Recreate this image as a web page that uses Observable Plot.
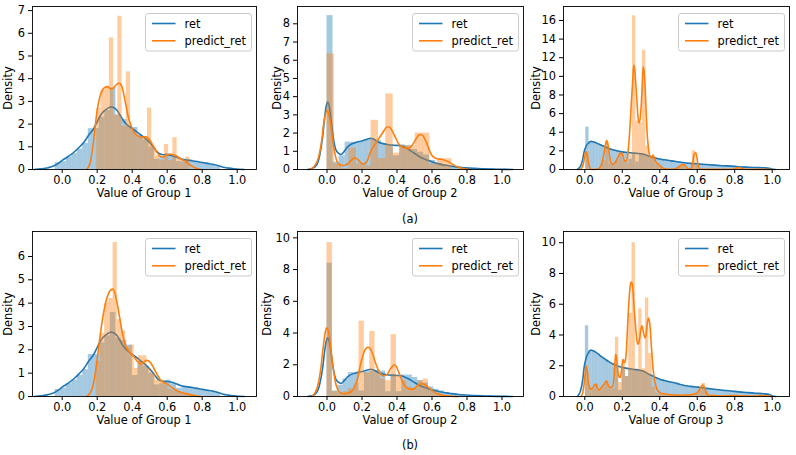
<!DOCTYPE html>
<html><head><meta charset="utf-8">
<script src="https://cdn.jsdelivr.net/npm/d3@7"></script>
<script src="https://cdn.jsdelivr.net/npm/@observablehq/plot@0.6"></script>
<style>
body{margin:0;background:#fff;}
#fig{position:relative;width:796px;height:455px;overflow:hidden;font-family:"DejaVu Sans",sans-serif;font-size:11.4px;color:#000;background:#fff;}
.t{position:absolute;white-space:nowrap;line-height:1;transform:translate(-50%,-50%);}
.yl{position:absolute;white-space:nowrap;line-height:1;transform:translate(-50%,-50%) rotate(-90deg);}
.panel{position:absolute;}
.leg{position:absolute;}
</style></head><body><div id="fig"></div>
<script>
// ---------- labels ----------
const seriesNames = ["ret", "predict_ret"];
const groupLabels = ["Value of Group 1", "Value of Group 2", "Value of Group 3"];
const captions = ["(a)", "(b)"];
const yTitle = "Density";
const xTicks = [0, 0.2, 0.4, 0.6, 0.8, 1.0];
const yTicks1a = [0,1,2,3,4,5,6,7];
const yTicks2a = [0,1,2,3,4,5,6,7,8];
const yTicks3a = [0,2,4,6,8,10,12,14,16];
const yTicks1b = [0,1,2,3,4,5,6];
const yTicks2b = [0,2,4,6,8,10];
const yTicks3b = [0,2,4,6,8,10];

// ---------- histogram bins (start, width, heights) ----------
const ret1BinStart = -0.04, ret1BinWidth = 0.0315;
const ret1HeightsA = [0.3,0.35,0.55,0.7,0.9,1.15,1.8,1.8,2.3,2.6,3.6,2.4,2.2,1.9,1.85,1.5,1.3,1.0,0.45,0.55,0.7,0.55,0.35,0.45,0.42,0.35,0.3,0.28,0.2,0.12];
const ret1HeightsB = [0.3,0.35,0.55,0.7,0.9,1.15,1.8,1.8,2.3,2.6,3.6,2.5,2.4,2.2,0.9,1.5,1.3,1.0,0.5,0.55,0.7,0.55,0.35,0.45,0.42,0.35,0.3,0.28,0.2,0.12];
const pred1BinStartA = 0.197, pred1BinWidthA = 0.0242;
const pred1HeightsA = [2.7,3.5,3.6,5.8,2.4,6.75,1.9,4.3,1.8,1.55,1.45,1.4,2.7,1.0,0.6,0.4,1.1,0.4,1.4,0.5,0.3,0.55];
const pred1BinStartB = 0.194, pred1BinWidthB = 0.0242;
const pred1HeightsB = [1.5,2.7,4.0,4.2,6.6,3.3,2.8,2.1,2.2,1.2,1.75,1.75,1.2,1.0,0.7,0.7,0.5,0.3,0.25,0.2,0.15,0.15,0.1];

const ret2BinStartA = 0, ret2BinWidthA = 0.0345;
const ret2HeightsA = [8.45,0.4,0.75,1.5,1.5,1.5,1.6,1.7,1.6,1.4,1.35,0.75,1.35,1.3,1.1,0.95,0.8,0.5,0.35,0.25,0.18,0.14,0.1,0.08,0.06,0.05,0.04,0.03,0.02,0.02,0.015];
const ret2BinStartB = 0, ret2BinWidthB = 0.0305;
const ret2HeightsB = [8.4,0.35,0.7,1.1,1.5,1.5,0.35,1.55,1.6,1.65,1.6,0.3,1.4,0.3,1.35,1.35,1.2,1.0,0.85,0.6,0.45,0.35,0.25,0.18,0.12,0.1,0.08,0.06,0.05,0.04,0.03,0.03,0.02,0.02];
const pred2BinStartA = 0, pred2BinWidthA = 0.042;
const pred2HeightsA = [6.35,0.3,0.05,1.17,0.3,0.2,2.7,0.6,4.15,0.9,1.3,1.3,2.0,2.0,0.3,0.59,0.59];
const pred2BinStartB = 0, pred2BinWidthB = 0.0305;
const pred2HeightsB = [9.7,0.3,0.2,0.3,0.5,0.8,4.75,1.5,4.1,1.5,1.1,1.0,3.9,1.3,1.0,0.6,0.5,1.0,1.1,0.4,0.2,0.1];

const ret3BinStartA = 0.005, ret3BinWidthA = 0.0178;
const ret3HeightsA = [4.55,3.0,2.95,2.8,2.65,2.5,2.35,2.2,2.1,2.0,1.95,1.9,1.85,1.1,1.75,0.8,1.7,1.65,1.5,1.4,1.3,1.15,1.1,1.05,1.0,0.95,0.9,0.85,0.78,0.72,0.68,0.65,0.62,0.6,0.57,0.55,0.52,0.5,0.47,0.45,0.43,0.41,0.39,0.36,0.34,0.31,0.29,0.27,0.25,0.23,0.21,0.2,0.19,0.18,0.17,0.15];
const ret3BinStartB = 0.003, ret3BinWidthB = 0.0178;
const ret3HeightsB = [4.6,3.0,2.95,2.8,2.65,2.5,2.35,2.2,2.1,2.0,0.4,1.9,1.3,1.8,1.75,1.7,1.7,1.65,1.5,1.4,1.3,1.15,1.1,1.05,1.0,0.95,0.9,0.85,0.78,0.72,0.68,0.65,0.62,0.6,0.57,0.55,0.52,0.5,0.47,0.45,0.43,0.41,0.39,0.36,0.34,0.31,0.29,0.27,0.25,0.23,0.21,0.2,0.19,0.18,0.17,0.15];
const pred3BinStartA = 0.005, pred3BinWidthA = 0.0178;
const pred3HeightsA = [1.9,0,0,0,0.2,1.0,2.9,0.6,0.4,1.0,1.8,0.9,0.7,1.6,16.5,5.2,5.0,12.8,2.5,1.4,1.3,0.6,0.3,0.1,0,0,0,0.2,0.4,0.5,0.1,0.1,2.0,0.5,0,0,0,0,0,0,0,0,0,0,0,0.2];
const pred3BinStartB = 0.003, pred3BinWidthB = 0.0178;
const pred3HeightsB = [1.6,0.6,0.5,0.8,0.4,0.6,1.0,0.5,0.5,3.85,0.9,2.4,1.3,5.4,10.0,1.7,5.7,1.8,6.4,2.8,0.6,0.2,0.15,0.1,0.1,0.1,0.05,0.1,0.05,0.1,0.1,0.1,0.15,0.2,0.4,0.85,0.3,0.05,0.05,0.05,0.05,0.05,0.05,0.1,0.05,0.05,0.05,0.05,0.05,0.05,0.05,0.05,0.1,0.1,0.05];

// ---------- KDE curves [x, density] ----------
const ret1Kde = [[-0.16,0],[-0.12,0.03],[-0.08,0.08],[-0.05,0.15],[-0.02,0.28],[0.0,0.4],[0.03,0.55],[0.067,0.76],[0.1,1.0],[0.124,1.2],[0.15,1.5],[0.18,1.8],[0.2,2.1],[0.22,2.4],[0.24,2.58],[0.257,2.68],[0.28,2.76],[0.3,2.7],[0.314,2.6],[0.33,2.4],[0.35,2.15],[0.37,1.98],[0.39,1.86],[0.41,1.75],[0.43,1.64],[0.45,1.52],[0.467,1.42],[0.49,1.26],[0.514,1.06],[0.54,0.8],[0.56,0.68],[0.58,0.65],[0.6,0.64],[0.62,0.62],[0.65,0.55],[0.676,0.47],[0.7,0.43],[0.733,0.4],[0.76,0.36],[0.79,0.32],[0.83,0.27],[0.867,0.22],[0.9,0.15],[0.92,0.1],[0.95,0.06],[0.98,0.03],[1.01,0.01],[1.04,0]];
const pred1KdeA = [[0.14,0],[0.16,0.3],[0.18,1.3],[0.19,2.0],[0.2,2.6],[0.215,3.2],[0.23,3.5],[0.245,3.62],[0.26,3.65],[0.276,3.55],[0.29,3.58],[0.305,3.7],[0.322,3.8],[0.335,3.75],[0.345,3.55],[0.36,3.0],[0.375,2.4],[0.39,2.0],[0.405,1.7],[0.42,1.55],[0.44,1.45],[0.457,1.42],[0.475,1.45],[0.49,1.38],[0.51,1.18],[0.53,0.9],[0.545,0.72],[0.56,0.58],[0.575,0.55],[0.6,0.64],[0.62,0.67],[0.638,0.65],[0.66,0.56],[0.68,0.45],[0.7,0.38],[0.714,0.3],[0.735,0.17],[0.752,0.1],[0.77,0.04],[0.79,0]];
const pred1KdeB = [[0.14,0],[0.17,0.3],[0.18,0.6],[0.2,1.6],[0.215,2.5],[0.23,3.3],[0.245,3.9],[0.257,4.25],[0.275,4.55],[0.29,4.6],[0.3,4.45],[0.314,4.0],[0.33,3.3],[0.343,2.75],[0.36,2.25],[0.371,2.05],[0.39,1.85],[0.41,1.7],[0.43,1.5],[0.45,1.4],[0.465,1.48],[0.486,1.55],[0.505,1.45],[0.524,1.2],[0.545,0.9],[0.562,0.71],[0.58,0.6],[0.6,0.54],[0.62,0.42],[0.638,0.33],[0.656,0.25],[0.676,0.19],[0.7,0.13],[0.714,0.11],[0.735,0.07],[0.752,0.04],[0.77,0.015],[0.79,0]];
const ret2Kde = [[-0.11,0],[-0.09,0.04],[-0.067,0.15],[-0.05,0.45],[-0.04,0.86],[-0.025,1.8],[-0.013,2.9],[-0.004,3.5],[0.004,3.7],[0.012,3.5],[0.02,3.0],[0.03,2.2],[0.04,1.5],[0.05,1.1],[0.065,0.9],[0.08,0.82],[0.095,0.95],[0.11,1.15],[0.125,1.3],[0.143,1.41],[0.17,1.5],[0.2,1.57],[0.225,1.65],[0.25,1.72],[0.27,1.65],[0.295,1.5],[0.32,1.42],[0.352,1.36],[0.38,1.33],[0.41,1.32],[0.44,1.25],[0.467,1.1],[0.495,0.92],[0.524,0.73],[0.55,0.6],[0.58,0.49],[0.61,0.39],[0.638,0.31],[0.68,0.23],[0.714,0.18],[0.75,0.13],[0.79,0.09],[0.84,0.06],[0.886,0.04],[0.93,0.025],[0.98,0.01],[1.02,0.005],[1.06,0]];
const pred2KdeA = [[-0.1,0],[-0.075,0.15],[-0.048,0.68],[-0.03,1.6],[-0.019,2.5],[-0.008,3.05],[0.0,3.24],[0.008,3.1],[0.019,2.6],[0.03,1.8],[0.038,1.23],[0.048,0.75],[0.057,0.45],[0.07,0.28],[0.086,0.22],[0.105,0.25],[0.124,0.35],[0.14,0.52],[0.158,0.64],[0.175,0.55],[0.19,0.4],[0.205,0.3],[0.219,0.33],[0.235,0.6],[0.248,0.95],[0.262,1.2],[0.276,1.41],[0.295,1.68],[0.314,1.96],[0.33,2.2],[0.343,2.33],[0.355,2.33],[0.368,2.2],[0.39,1.78],[0.41,1.4],[0.43,1.23],[0.45,1.17],[0.467,1.16],[0.48,1.25],[0.495,1.45],[0.51,1.7],[0.524,1.88],[0.535,1.92],[0.548,1.85],[0.56,1.65],[0.571,1.41],[0.585,1.05],[0.6,0.77],[0.62,0.62],[0.638,0.58],[0.66,0.55],[0.676,0.5],[0.695,0.42],[0.714,0.31],[0.733,0.2],[0.752,0.13],[0.77,0.07],[0.79,0.03],[0.82,0]];
const pred2KdeB = [[-0.09,0],[-0.07,0.2],[-0.048,0.9],[-0.035,1.8],[-0.025,2.8],[-0.012,3.9],[-0.003,4.33],[0.005,4.2],[0.013,3.84],[0.021,3.1],[0.029,2.37],[0.038,1.6],[0.048,0.9],[0.057,0.55],[0.067,0.34],[0.08,0.22],[0.095,0.17],[0.115,0.2],[0.133,0.27],[0.15,0.45],[0.162,0.69],[0.176,1.2],[0.19,1.95],[0.203,2.5],[0.215,2.9],[0.225,3.05],[0.234,3.1],[0.244,3.05],[0.253,2.9],[0.265,2.55],[0.276,2.16],[0.29,1.75],[0.305,1.43],[0.32,1.3],[0.333,1.32],[0.348,1.45],[0.362,1.74],[0.375,1.92],[0.387,2.0],[0.398,1.85],[0.41,1.53],[0.425,1.1],[0.438,0.8],[0.452,0.58],[0.467,0.48],[0.48,0.46],[0.495,0.48],[0.51,0.6],[0.524,0.74],[0.543,0.8],[0.562,0.74],[0.575,0.6],[0.59,0.48],[0.605,0.35],[0.619,0.23],[0.638,0.15],[0.657,0.1],[0.685,0.05],[0.714,0.02],[0.75,0]];
const ret3Kde = [[-0.04,0],[-0.03,0.15],[-0.018,0.6],[-0.01,1.2],[-0.004,1.86],[0.003,2.3],[0.009,2.58],[0.02,2.85],[0.032,3.02],[0.045,2.97],[0.062,2.85],[0.08,2.68],[0.106,2.45],[0.13,2.25],[0.16,2.06],[0.19,1.92],[0.212,1.86],[0.24,1.8],[0.265,1.76],[0.29,1.72],[0.319,1.61],[0.345,1.43],[0.372,1.27],[0.4,1.12],[0.425,1.04],[0.45,0.96],[0.478,0.89],[0.505,0.8],[0.531,0.72],[0.565,0.66],[0.602,0.61],[0.645,0.54],[0.69,0.47],[0.735,0.41],[0.779,0.36],[0.82,0.3],[0.867,0.25],[0.91,0.21],[0.956,0.18],[0.98,0.14],[0.99,0.08],[1.005,0.03],[1.018,0]];
const pred3KdeA = [[-0.023,0],[-0.015,0.2],[-0.009,0.5],[0.0,1.4],[0.005,1.9],[0.011,1.7],[0.018,0.9],[0.025,0.3],[0.03,0.07],[0.04,0],[0.053,0],[0.07,0.05],[0.08,0.2],[0.09,0.6],[0.101,1.6],[0.11,2.6],[0.116,3.1],[0.121,2.9],[0.126,2.3],[0.137,0.9],[0.145,0.6],[0.151,0.55],[0.16,0.7],[0.169,1.0],[0.183,1.55],[0.196,1.8],[0.203,1.5],[0.208,1.1],[0.215,0.9],[0.222,0.9],[0.23,1.8],[0.236,3.1],[0.243,5.2],[0.249,7.4],[0.256,9.6],[0.261,11.2],[0.266,10.8],[0.272,9.2],[0.278,7.3],[0.283,5.8],[0.29,5.0],[0.296,5.6],[0.302,7.2],[0.307,9.3],[0.311,11.0],[0.316,10.6],[0.322,8.8],[0.327,6.3],[0.332,4.1],[0.338,2.6],[0.343,1.8],[0.349,1.35],[0.354,1.26],[0.36,1.45],[0.364,1.55],[0.37,1.3],[0.377,0.9],[0.384,0.72],[0.391,0.6],[0.398,0.45],[0.404,0.36],[0.415,0.18],[0.427,0.07],[0.44,0.02],[0.471,0.02],[0.49,0.1],[0.507,0.36],[0.518,0.5],[0.528,0.54],[0.538,0.35],[0.551,0.07],[0.562,0.05],[0.569,0.18],[0.576,0.8],[0.583,1.6],[0.592,1.8],[0.598,1.3],[0.604,0.54],[0.61,0.15],[0.617,0.02],[0.7,0.01],[0.79,0.03],[0.81,0.15],[0.823,0.22],[0.836,0.12],[0.85,0.02],[0.95,0.01],[1.0,0]];
const pred3KdeB = [[-0.02,0],[-0.01,0.3],[-0.003,0.9],[0.003,1.6],[0.008,2.0],[0.013,1.7],[0.019,0.9],[0.024,0.6],[0.029,0.48],[0.036,0.5],[0.044,0.58],[0.051,0.75],[0.058,0.8],[0.066,0.6],[0.074,0.43],[0.083,0.5],[0.092,0.65],[0.104,0.8],[0.115,1.0],[0.123,0.8],[0.132,0.58],[0.141,0.6],[0.15,0.7],[0.156,1.3],[0.161,2.2],[0.165,2.75],[0.169,2.5],[0.175,1.8],[0.182,1.3],[0.189,1.23],[0.196,1.7],[0.204,2.4],[0.21,2.2],[0.216,2.3],[0.222,3.0],[0.228,4.5],[0.234,5.9],[0.24,6.9],[0.246,7.4],[0.251,7.45],[0.257,6.9],[0.262,6.0],[0.268,5.0],[0.275,4.0],[0.282,3.4],[0.288,3.5],[0.294,3.9],[0.3,4.45],[0.305,4.6],[0.31,4.35],[0.316,4.0],[0.322,3.8],[0.327,4.0],[0.333,4.7],[0.339,5.1],[0.344,4.95],[0.35,4.3],[0.355,3.3],[0.361,2.3],[0.366,1.6],[0.371,1.1],[0.378,0.75],[0.385,0.48],[0.395,0.3],[0.41,0.2],[0.44,0.15],[0.48,0.1],[0.51,0.08],[0.55,0.1],[0.58,0.15],[0.6,0.25],[0.615,0.5],[0.628,0.75],[0.638,0.6],[0.648,0.25],[0.66,0.08],[0.7,0.05],[0.75,0.03],[0.8,0.06],[0.85,0.03],[0.9,0.02],[0.95,0.05],[0.98,0.03],[1.0,0]];

// ---------- build ----------
const C0 = "#1f77b4", C1 = "#ff7f0e";
const bars = (start, width, hs) => hs.map((h, i) => ({x1: start + i * width, x2: start + (i + 1) * width, y: h}));
const curve = (pairs) => pairs.map(([x, y]) => ({x, y}));

const panels = [
  {L:32, R:256, T:6, B:169, xd:[-0.1697,1.1103], yd:[0,7.18], yt:yTicks1a, yl:9.3, g:0,
   rb:bars(ret1BinStart, ret1BinWidth, ret1HeightsA), pb:bars(pred1BinStartA, pred1BinWidthA, pred1HeightsA), rk:ret1Kde, pk:pred1KdeA},
  {L:297, R:523, T:6, B:169, xd:[-0.1686,1.1229], yd:[0,8.95], yt:yTicks2a, yl:277.7, g:1,
   rb:bars(ret2BinStartA, ret2BinWidthA, ret2HeightsA), pb:bars(pred2BinStartA, pred2BinWidthA, pred2HeightsA), rk:ret2Kde, pk:pred2KdeA},
  {L:563, R:789, T:6, B:169, xd:[-0.1137,1.0923], yd:[0,17.5], yt:yTicks3a, yl:537.3, g:2,
   rb:bars(ret3BinStartA, ret3BinWidthA, ret3HeightsA), pb:bars(pred3BinStartA, pred3BinWidthA, pred3HeightsA), rk:ret3Kde, pk:pred3KdeA},
  {L:32, R:256, T:231, B:396, xd:[-0.1697,1.1103], yd:[0,7.07], yt:yTicks1b, yl:9.3, g:0,
   rb:bars(ret1BinStart, ret1BinWidth, ret1HeightsB), pb:bars(pred1BinStartB, pred1BinWidthB, pred1HeightsB), rk:ret1Kde, pk:pred1KdeB},
  {L:297, R:523, T:231, B:396, xd:[-0.1686,1.1229], yd:[0,10.4], yt:yTicks2b, yl:268.3, g:1,
   rb:bars(ret2BinStartB, ret2BinWidthB, ret2HeightsB), pb:bars(pred2BinStartB, pred2BinWidthB, pred2HeightsB), rk:ret2Kde, pk:pred2KdeB},
  {L:563, R:789, T:231, B:396, xd:[-0.1137,1.0923], yd:[0,10.73], yt:yTicks3b, yl:537.3, g:2,
   rb:bars(ret3BinStartB, ret3BinWidthB, ret3HeightsB), pb:bars(pred3BinStartB, pred3BinWidthB, pred3HeightsB), rk:ret3Kde, pk:pred3KdeB}
];

const fig = document.getElementById("fig");
const ml = 34, mr = 4, mt = 3, mb = 22;

function addText(txt, cx, cy, cls) {
  const d = document.createElement("div");
  d.className = cls; d.textContent = txt;
  d.style.left = cx + "px"; d.style.top = cy + "px";
  fig.appendChild(d);
}

panels.forEach((p) => {
  const w = p.R - p.L, h = p.B - p.T;
  const chart = Plot.plot({
    width: w + ml + mr, height: h + mt + mb,
    marginLeft: ml, marginRight: mr, marginTop: mt, marginBottom: mb,
    style: {fontFamily: "DejaVu Sans", fontSize: "11.4px", color: "#000", background: "transparent", overflow: "visible"},
    x: {domain: p.xd},
    y: {domain: p.yd},
    marks: [
      Plot.rect(p.rb, {x1: "x1", x2: "x2", y1: 0, y2: "y", fill: C0, fillOpacity: 0.4}),
      Plot.line(curve(p.rk), {x: "x", y: "y", stroke: C0, strokeWidth: 1.6, curve: "monotone-x"}),
      Plot.rect(p.pb, {x1: "x1", x2: "x2", y1: 0, y2: "y", fill: C1, fillOpacity: 0.4}),
      Plot.line(curve(p.pk), {x: "x", y: "y", stroke: C1, strokeWidth: 1.6, curve: "monotone-x"}),
      Plot.axisX({ticks: xTicks, tickFormat: d3.format(".1f"), tickSize: 4, tickPadding: 2.5, label: null, fontSize: 11.4}),
      Plot.axisY({ticks: p.yt, tickFormat: d => String(d), tickSize: 4, tickPadding: 3.5, label: null, fontSize: 11.4}),
      Plot.frame({stroke: "#000", strokeWidth: 0.9})
    ]
  });
  chart.classList.add("panel");
  chart.style.left = (p.L - ml) + "px";
  chart.style.top = (p.T - mt) + "px";
  fig.appendChild(chart);

  // axis titles
  addText(groupLabels[p.g], (p.L + p.R) / 2, p.B + 25, "t");
  addText(yTitle, p.yl, (p.T + p.B) / 2, "yl");

  // legend
  const lw = 106, lh = 37.5;
  const ns = "http://www.w3.org/2000/svg";
  const svg = document.createElementNS(ns, "svg");
  svg.setAttribute("width", lw + 2); svg.setAttribute("height", lh + 2);
  svg.setAttribute("class", "leg");
  svg.style.left = (p.R - 5.5 - lw) + "px";
  svg.style.top = (p.T + 6.5) + "px";
  const rect = document.createElementNS(ns, "rect");
  rect.setAttribute("x", 0.5); rect.setAttribute("y", 0.5);
  rect.setAttribute("width", lw); rect.setAttribute("height", lh);
  rect.setAttribute("rx", 2.5);
  rect.setAttribute("fill", "white"); rect.setAttribute("fill-opacity", 0.8);
  rect.setAttribute("stroke", "#cccccc"); rect.setAttribute("stroke-width", 1);
  svg.appendChild(rect);
  [C0, C1].forEach((c, i) => {
    const yy = 10.5 + i * 17.3;
    const ln = document.createElementNS(ns, "line");
    ln.setAttribute("x1", 7); ln.setAttribute("x2", 30.5);
    ln.setAttribute("y1", yy); ln.setAttribute("y2", yy);
    ln.setAttribute("stroke", c); ln.setAttribute("stroke-width", 1.6);
    svg.appendChild(ln);
    const tx = document.createElementNS(ns, "text");
    tx.setAttribute("x", 39.5); tx.setAttribute("y", yy);
    tx.setAttribute("dy", "0.36em");
    tx.setAttribute("font-family", "DejaVu Sans"); tx.setAttribute("font-size", "11.4px");
    tx.setAttribute("fill", "#000");
    tx.textContent = seriesNames[i];
    svg.appendChild(tx);
  });
  fig.appendChild(svg);
});

addText(captions[0], 410, 219.5, "t");
addText(captions[1], 410, 446, "t");
</script></body></html>
